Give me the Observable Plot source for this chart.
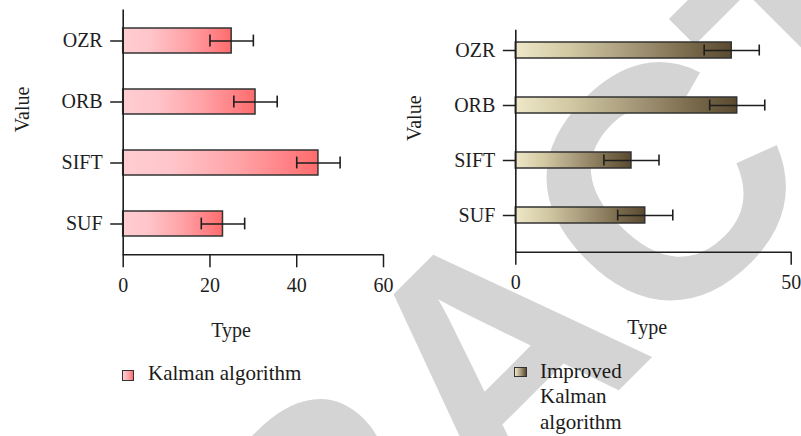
<!DOCTYPE html>
<html><head><meta charset="utf-8">
<script src="https://cdn.jsdelivr.net/npm/d3@7"></script>
<script src="https://cdn.jsdelivr.net/npm/@observablehq/plot@0.6"></script>
<style>
html,body{margin:0;padding:0;background:#fff;}
#root{position:relative;width:801px;height:436px;overflow:hidden;font-family:"Liberation Serif",serif;color:#1a1a1a;}
.panel{position:absolute;top:0;}
.legend{position:absolute;font-size:21px;line-height:25.3px;}
.sw{position:absolute;box-sizing:border-box;border:1.5px solid #333;}
</style></head><body>
<div id="root">
  <svg id="wm" width="801" height="436" style="position:absolute;left:0;top:0">
    <defs>
      <linearGradient id="gradKalman" x1="0" x2="1" y1="0" y2="0">
        <stop offset="0" stop-color="#ffcdd1"/>
        <stop offset="0.25" stop-color="#ffc5ca"/>
        <stop offset="0.6" stop-color="#ffa2a6"/>
        <stop offset="0.85" stop-color="#ff8084"/>
        <stop offset="1" stop-color="#ff6c6c"/>
      </linearGradient>
      <linearGradient id="gradImproved" x1="0" x2="1" y1="0" y2="0">
        <stop offset="0" stop-color="#eee8c8"/>
        <stop offset="0.25" stop-color="#d2c8a2"/>
        <stop offset="0.55" stop-color="#a39677"/>
        <stop offset="0.8" stop-color="#7a6a4c"/>
        <stop offset="1" stop-color="#5a4a30"/>
      </linearGradient>
    </defs>
    <text x="574" y="435" transform="rotate(-45 574 435)" text-anchor="middle"
      font-family="Liberation Sans" font-weight="bold" font-size="330" fill="#d4d4d4">RETRACTED</text>
  </svg>
  <div id="left" class="panel" style="left:0"></div>
  <div id="right" class="panel" style="left:400px"></div>
  <div class="sw" style="left:122px;top:370px;width:12px;height:11px;background:linear-gradient(to right,#ffcdd1,#ffa2a6 60%,#ff6c6c)"></div>
  <div class="legend" style="left:148px;top:361px;">Kalman algorithm</div>
  <div class="sw" style="left:514px;top:366.5px;width:12.5px;height:10.5px;background:linear-gradient(to right,#eee8c8,#a39677 55%,#5a4a30)"></div>
  <div class="legend" style="left:540px;top:359px;width:100px;">Improved Kalman algorithm</div>
</div>
<script>
// ---- data ----
const methods = ["OZR", "ORB", "SIFT", "SUF"];
const kalmanValues = [25, 30.5, 45, 23];
const kalmanErrors = [5, 5, 5, 5];
const improvedValues = [39.2, 40.2, 21, 23.5];
const improvedErrors = [5, 5, 5, 5];
const leftTicks = [0, 20, 40, 60];
const rightTicks = [0, 50];
const axisTitleX = "Type";
const axisTitleY = "Value";

function panel(o) {
  const data = methods.map((m, i) => ({
    method: m, value: o.values[i], lo: o.values[i] - o.errors[i], hi: o.values[i] + o.errors[i]
  }));
  const w = o.width - o.marginLeft - o.marginRight;
  const h = o.height - o.marginTop - o.marginBottom;
  const ink = "#1e1e1e";
  return Plot.plot({
    width: o.width, height: o.height,
    marginLeft: o.marginLeft, marginRight: o.marginRight,
    marginTop: o.marginTop, marginBottom: o.marginBottom,
    style: {background: "transparent", fontFamily: "Liberation Serif", fontSize: "20px", color: ink, overflow: "visible"},
    x: {domain: [0, o.ticks[o.ticks.length - 1]], label: null},
    y: {domain: methods, label: null, ...o.yOpts},
    marks: [
      Plot.barX(data, {x: "value", y: "method", fill: `url(#${o.gradient})`, stroke: "#333", strokeWidth: 1.5}),
      Plot.link(data, {x1: "lo", x2: "hi", y1: "method", y2: "method", stroke: ink, strokeWidth: 1.6}),
      Plot.tickX(data, {x: "lo", y: "method", insetTop: o.capInset, insetBottom: o.capInset, stroke: ink, strokeWidth: 1.6}),
      Plot.tickX(data, {x: "hi", y: "method", insetTop: o.capInset, insetBottom: o.capInset, stroke: ink, strokeWidth: 1.6}),
      Plot.frame({stroke: ink, strokeWidth: 1.6, strokeDasharray: `0 ${w + h} ${w + h}`}),
      Plot.axisX({ticks: o.ticks, tickSize: 13, tickPadding: o.xPad, strokeWidth: 1.5, stroke: ink, fill: ink, label: null}),
      Plot.axisY({tickSize: 12.5, tickPadding: 8, strokeWidth: 1.5, stroke: ink, fill: ink, label: null}),
      Plot.text([axisTitleY], {frameAnchor: "left", rotate: -90, lineAnchor: "top", dx: o.valueDx, text: d => d, fill: ink, fontSize: 20}),
      Plot.text([axisTitleX], {frameAnchor: "bottom", lineAnchor: "top", dx: o.typeDx, dy: o.typeDy, text: d => d, fill: ink, fontSize: 20})
    ]
  });
}

document.getElementById("left").append(panel({
  values: kalmanValues, errors: kalmanErrors, ticks: leftTicks, gradient: "gradKalman",
  width: 400, height: 300, marginLeft: 122.7, marginRight: 17, marginTop: 9, marginBottom: 45.7,
  yOpts: {paddingInner: 0.59, paddingOuter: 0.295},
  capInset: 6.6, xPad: 10, valueDx: -108.7, typeDx: -22.3, typeDy: 68.2
}));

document.getElementById("right").append(panel({
  values: improvedValues, errors: improvedErrors, ticks: rightTicks, gradient: "gradImproved",
  width: 401, height: 300, marginLeft: 115.3, marginRight: 10.3, marginTop: 29.3, marginBottom: 48.3,
  yOpts: {paddingInner: 0.714, paddingOuter: 0.343, align: 0.3},
  capInset: 2.5, xPad: 10, valueDx: -109, typeDx: -6.3, typeDy: 67.4
}));
</script>
</body></html>
